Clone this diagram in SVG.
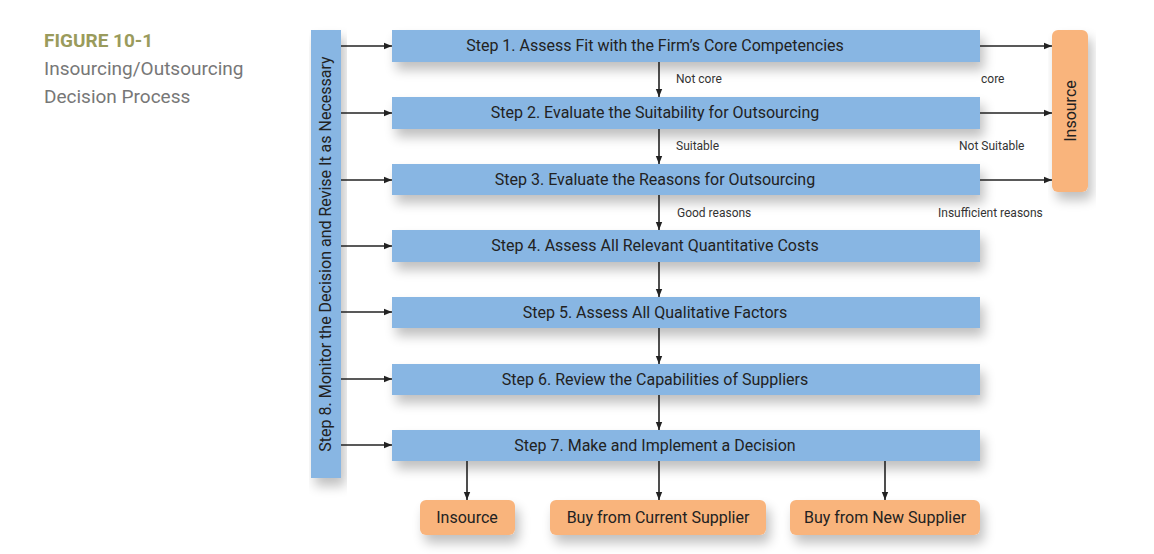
<svg xmlns="http://www.w3.org/2000/svg" width="1154" height="554" viewBox="0 0 1154 554">
<defs>
<marker id="ah" viewBox="0 0 10 10" refX="10" refY="5" markerWidth="8" markerHeight="8" markerUnits="userSpaceOnUse" orient="auto"><path d="M0,1 L10,5 L0,9 Z" fill="#222"/></marker>
<filter id="sh" x="-20%" y="-50%" width="140%" height="250%"><feGaussianBlur in="SourceAlpha" stdDeviation="6"/><feOffset dx="4" dy="8"/><feComponentTransfer><feFuncA type="linear" slope="0.25"/></feComponentTransfer><feMerge><feMergeNode/><feMergeNode in="SourceGraphic"/></feMerge></filter>
</defs>
<style>
.b{fill:#88b6e3;filter:url(#sh)}
.o{fill:#f9b47c;filter:url(#sh)}
.t{font-family:Roboto,"Liberation Sans",sans-serif;font-size:16px;fill:#222;text-anchor:middle}
.s{font-family:Roboto,"Liberation Sans",sans-serif;font-size:12px;fill:#333}
.c line{stroke:#222;stroke-width:1.6;marker-end:url(#ah)}
</style>
<rect width="1154" height="554" fill="#fff"/>
<g id="title">
<text x="44" y="47" font-family="Roboto,'Liberation Sans',sans-serif" font-size="19" font-weight="bold" fill="#9a9b5c">FIGURE 10-1</text>
<text x="44" y="75" font-family="Roboto,'Liberation Sans',sans-serif" font-size="19" fill="#777">Insourcing/Outsourcing</text>
<text x="44" y="103" font-family="Roboto,'Liberation Sans',sans-serif" font-size="19" fill="#777">Decision Process</text>
</g>
<g id="step8"><rect class="b" x="311" y="30" width="30" height="448"/><text class="t" transform="translate(331,254) rotate(-90)">Step 8. Monitor the Decision and Revise It as Necessary</text></g>
<g id="step1"><rect class="b" x="392" y="30" width="588" height="32"/><text class="t" x="655" y="51">Step 1. Assess Fit with the Firm’s Core Competencies</text></g>
<g id="step2"><rect class="b" x="392" y="97" width="588" height="32"/><text class="t" x="655" y="118">Step 2. Evaluate the Suitability for Outsourcing</text></g>
<g id="step3"><rect class="b" x="392" y="164" width="588" height="31"/><text class="t" x="655" y="185">Step 3. Evaluate the Reasons for Outsourcing</text></g>
<g id="step4"><rect class="b" x="392" y="230" width="588" height="32"/><text class="t" x="655" y="251">Step 4. Assess All Relevant Quantitative Costs</text></g>
<g id="step5"><rect class="b" x="392" y="297" width="588" height="31"/><text class="t" x="655" y="318">Step 5. Assess All Qualitative Factors</text></g>
<g id="step6"><rect class="b" x="392" y="364" width="588" height="31"/><text class="t" x="655" y="385">Step 6. Review the Capabilities of Suppliers</text></g>
<g id="step7"><rect class="b" x="392" y="430" width="588" height="31"/><text class="t" x="655" y="451">Step 7. Make and Implement a Decision</text></g>
<g id="insourceR"><rect class="o" x="1052" y="30" width="36" height="162" rx="6"/><text class="t" transform="translate(1076,111) rotate(-90)">Insource</text></g>
<g id="insourceB"><rect class="o" x="420" y="500" width="95" height="35" rx="6"/><text class="t" x="467" y="523">Insource</text></g>
<g id="current"><rect class="o" x="550" y="500" width="216" height="35" rx="6"/><text class="t" x="658" y="523">Buy from Current Supplier</text></g>
<g id="new"><rect class="o" x="790" y="500" width="190" height="35" rx="6"/><text class="t" x="885" y="523">Buy from New Supplier</text></g>
<g class="c" id="connectors">
<line x1="341" y1="46" x2="392" y2="46"/><line x1="341" y1="113" x2="392" y2="113"/><line x1="341" y1="180" x2="392" y2="180"/><line x1="341" y1="246" x2="392" y2="246"/><line x1="341" y1="312" x2="392" y2="312"/><line x1="341" y1="379" x2="392" y2="379"/><line x1="341" y1="445" x2="392" y2="445"/>
<line x1="980" y1="46" x2="1052" y2="46"/><line x1="980" y1="113" x2="1052" y2="113"/><line x1="980" y1="180" x2="1052" y2="180"/>
<line x1="659" y1="62" x2="659" y2="97"/><line x1="659" y1="129" x2="659" y2="164"/><line x1="659" y1="195" x2="659" y2="230"/><line x1="659" y1="262" x2="659" y2="297"/><line x1="659" y1="328" x2="659" y2="364"/><line x1="659" y1="395" x2="659" y2="430"/>
<line x1="467" y1="461" x2="467" y2="500"/><line x1="659" y1="461" x2="659" y2="500"/><line x1="885" y1="461" x2="885" y2="500"/>
</g>
<g id="labels">
<text class="s" x="676" y="83">Not core</text><text class="s" x="676" y="150">Suitable</text><text class="s" x="677" y="217">Good reasons</text>
<text class="s" x="981" y="83">core</text><text class="s" x="959" y="150">Not Suitable</text><text class="s" x="938" y="217">Insufficient reasons</text>
</g>
</svg>
